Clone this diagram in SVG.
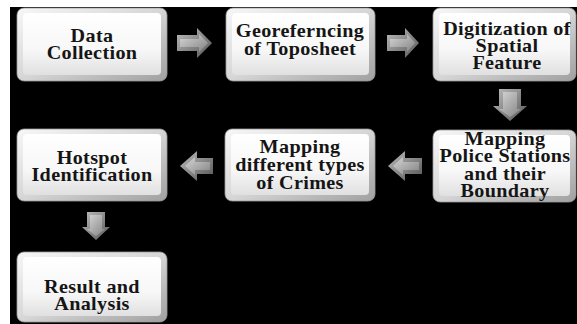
<svg xmlns="http://www.w3.org/2000/svg" width="577" height="324" viewBox="0 0 577 324">
<defs>
<linearGradient id="boxOuter" x1="0" y1="0" x2="1" y2="1">
<stop offset="0" stop-color="#f7f7f7"/>
<stop offset="0.5" stop-color="#d6d6d6"/>
<stop offset="1" stop-color="#a0a0a0"/>
</linearGradient>
<linearGradient id="boxInner" x1="0" y1="0" x2="0" y2="1">
<stop offset="0" stop-color="#ffffff"/>
<stop offset="0.6" stop-color="#f7f7f7"/>
<stop offset="1" stop-color="#e0e0e0"/>
</linearGradient>
<linearGradient id="arrOuter" x1="0" y1="0" x2="1" y2="1">
<stop offset="0" stop-color="#bdbdbd"/>
<stop offset="1" stop-color="#555555"/>
</linearGradient>
<linearGradient id="arrInner" x1="0" y1="0" x2="1" y2="1">
<stop offset="0" stop-color="#d6d6d6"/>
<stop offset="1" stop-color="#838383"/>
</linearGradient>
</defs>
<style>
.bo{fill:url(#boxOuter);stroke:#9a9a9a;stroke-width:0.8}
.bi{fill:url(#boxInner)}
.t{font-family:"Liberation Serif","Times New Roman",serif;font-weight:bold;font-size:18px;fill:#151515;text-anchor:middle;letter-spacing:0.3px}
.ao{fill:url(#arrOuter)}
.ai{fill:url(#arrInner)}
</style>
<rect x="0" y="0" width="577" height="324" fill="#ffffff"/>
<rect x="10" y="7" width="567" height="317" fill="#000000"/>

<g id="connectors">
<path class="ao" d="M177,35 H197 V28 L212,43 L197,58 V51 H177 Z"/>
<path class="ai" d="M180,39 H199 V34 L208,43 L199,52 V47 H180 Z"/>
<path class="ao" d="M387,35 H405 V28 L419,43 L405,58 V51 H387 Z"/>
<path class="ai" d="M390,39 H407 V34 L415,43 L407,52 V47 H390 Z"/>
<path class="ao" d="M499,89 H521 V106 H527 L510,121 L493,106 H499 Z"/>
<path class="ai" d="M503,92 H517 V109 H521 L510,117 L499,109 H503 Z"/>
<path class="ao" d="M422,158 H405 V151 L388,166 L405,181 V174 H422 Z"/>
<path class="ai" d="M419,162 H403 V157 L393,166 L403,175 V170 H419 Z"/>
<path class="ao" d="M213,158 H197 V151 L180,166 L197,181 V174 H213 Z"/>
<path class="ai" d="M210,162 H195 V157 L185,166 L195,175 V170 H210 Z"/>
<path class="ao" d="M87,212 H105 V227 H110 L96,240 L82,227 H87 Z"/>
<path class="ai" d="M90,215 H102 V229 H105 L96,236 L87,229 H90 Z"/>
</g>

<g id="n-data">
<rect class="bo" x="17" y="8" width="150" height="73" rx="7"/>
<rect class="bi" x="23" y="13" width="138" height="62" rx="4"/>
<g transform="translate(92,0) scale(1.12,1)">
<text class="t" x="0" y="42">Data</text>
<text class="t" x="0" y="59">Collection</text>
</g>
</g>
<g id="n-geo">
<rect class="bo" x="226" y="8" width="149" height="73" rx="7"/>
<rect class="bi" x="232" y="13" width="137" height="62" rx="4"/>
<g transform="translate(300,0) scale(1.12,1)">
<text class="t" x="0" y="37">Georeferncing</text>
<text class="t" x="0" y="55">of Toposheet</text>
</g>
</g>
<g id="n-digit">
<rect class="bo" x="433" y="8" width="143" height="73" rx="7"/>
<rect class="bi" x="439" y="13" width="131" height="62" rx="4"/>
<g transform="translate(507,0) scale(1.12,1)">
<text class="t" x="0" y="35">Digitization of</text>
<text class="t" x="0" y="52">Spatial</text>
<text class="t" x="0" y="69">Feature</text>
</g>
</g>
<g id="n-police">
<rect class="bo" x="433" y="130" width="143" height="72" rx="7"/>
<rect class="bi" x="439" y="135" width="131" height="61" rx="4"/>
<g transform="translate(505,0) scale(1.12,1)">
<text class="t" x="0" y="145">Mapping</text>
<text class="t" x="0" y="162.5">Police Stations</text>
<text class="t" x="0" y="180">and their</text>
<text class="t" x="0" y="197.5">Boundary</text>
</g>
</g>
<g id="n-crimes">
<rect class="bo" x="225" y="129" width="150" height="72" rx="7"/>
<rect class="bi" x="231" y="134" width="138" height="61" rx="4"/>
<g transform="translate(300,0) scale(1.12,1)">
<text class="t" x="0" y="153">Mapping</text>
<text class="t" x="0" y="171">different types</text>
<text class="t" x="0" y="189">of Crimes</text>
</g>
</g>
<g id="n-hotspot">
<rect class="bo" x="17" y="129" width="150" height="72" rx="7"/>
<rect class="bi" x="23" y="134" width="138" height="61" rx="4"/>
<g transform="translate(92,0) scale(1.12,1)">
<text class="t" x="0" y="164">Hotspot</text>
<text class="t" x="0" y="181">Identification</text>
</g>
</g>
<g id="n-result">
<rect class="bo" x="17" y="252" width="150" height="70" rx="7"/>
<rect class="bi" x="23" y="257" width="138" height="59" rx="4"/>
<g transform="translate(92,0) scale(1.12,1)">
<text class="t" x="0" y="293">Result and</text>
<text class="t" x="0" y="310">Analysis</text>
</g>
</g>
</svg>
